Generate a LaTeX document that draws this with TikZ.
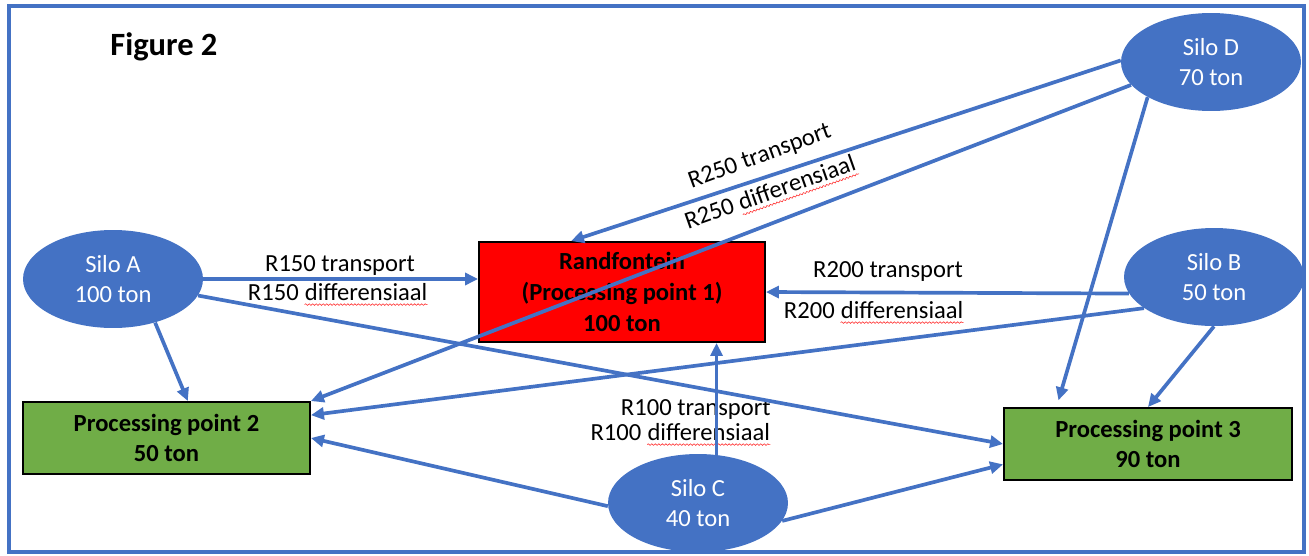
\documentclass[tikz,border=0pt]{standalone}
\usepackage{fontspec}
\setmainfont{Carlito}
\usepackage{tikz}
\usetikzlibrary{arrows.meta,shapes.geometric,decorations.pathmorphing}
\definecolor{kantoorblou}{HTML}{4472C4}
\definecolor{kantoorgroen}{HTML}{70AD47}
\newcommand\spel[1]{\tikz[baseline=(w.base)]{\node[inner sep=0pt,anchor=base] (w) {#1};
  \draw[red!80,line width=0.35pt,decorate,decoration={snake,amplitude=0.45pt,segment length=2pt}]
    ([yshift=-2.6pt]w.base west) -- ([yshift=-2.6pt]w.base east);}}
\tikzset{
  silo/.style={ellipse,fill=kantoorblou,text=white,minimum width=3.6cm,minimum height=1.96cm,inner sep=0pt,align=center},
  blok/.style={draw,line width=1.1pt,inner sep=0pt,align=center,font=\bfseries\fontsize{14}{17.5}\selectfont},
  pyl/.style={draw=kantoorblou,line width=2.1pt,-{Triangle[length=0.26cm,width=0.24cm]}},
  byskrif/.style={anchor=base,inner sep=0pt},
}

\begin{document}
\begin{tikzpicture}[x=0.02cm,y=-0.02cm,font=\fontsize{14}{17}\selectfont]
  \useasboundingbox (0,0) rectangle (1309,555);
  \draw[kantoorblou,line width=2.1pt] (9,6) rectangle (1304,552);
  \node[anchor=base west,inner sep=0pt,font=\bfseries\fontsize{18.5}{22}\selectfont] (titel) at (110,55) {Figure 2};
  \node[silo] (siloA) at (113,279) {Silo A\\100 ton};
  \node[silo] (siloB) at (1214,277) {Silo B\\50 ton};
  \node[silo] (siloC) at (698,503) {Silo C\\40 ton};
  \node[silo] (siloD) at (1211,62) {Silo D\\70 ton};
  \node[blok,fill=red,minimum width=5.72cm,minimum height=2cm] (rand) at (622,292)
    {Randfontein\\(Processing point 1)\\100 ton};
  \node[blok,fill=kantoorgroen,minimum width=5.74cm,minimum height=1.44cm] (pp2) at (166.5,438)
    {Processing point 2\\50 ton};
  \node[blok,fill=kantoorgroen,minimum width=5.76cm,minimum height=1.44cm] (pp3) at (1148,444)
    {Processing point 3\\90 ton};
  \node[byskrif] (lA1) at (340,271) {R150 transport};
  \node[byskrif] (lA2) at (338,300) {R150 \spel{differensiaal}};
  \node[byskrif] (lB1) at (888,277) {R200 transport};
  \node[byskrif] (lB2) at (874,318) {R200 \spel{differensiaal}};
  \node[byskrif,anchor=base east] (lC1) at (771,415) {R100 transport};
  \node[byskrif,anchor=base east] (lC2) at (771,440) {R100 \spel{differensiaal}};
  \node[rotate=20] (lD1) at (760,157) {R250 transport};
  \node[rotate=19.5] (lD2) at (771,194) {R250 \spel{differensiaal}};
  \draw[pyl] (siloA.east) -- (siloA.east -| rand.west);
  \draw[pyl] (siloA.-11) -- (pp3.west);
  \draw[pyl] (siloA.-46) -- (pp2.60);
  \draw[pyl] (siloD.179) -- (rand.135);
  \draw[pyl] (siloD.196) -- (pp2.north east);
  \draw[pyl,shorten >=0.14cm] (siloD.209) -- (pp3.158);
  \draw[pyl] (siloB.191) -- (rand.east);
  \draw[pyl] (siloB.204) -- (pp2.9);
  \draw[pyl] (siloB.south) -- (pp3.north);
  \draw[pyl] (siloC.69) -- (siloC.69 |- rand.south);
  \draw[pyl] (siloC.182) -- (pp2.east);
  \draw[pyl] (siloC.-12) -- (pp3.188);
\end{tikzpicture}
\end{document}
